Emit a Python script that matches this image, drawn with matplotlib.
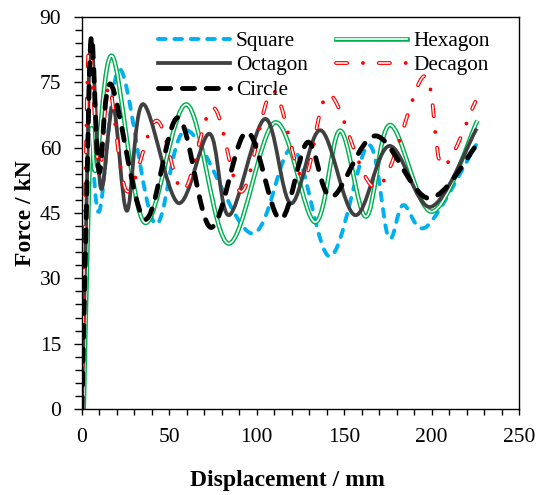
import numpy as np
import matplotlib
matplotlib.use("Agg")
import matplotlib.pyplot as plt
from matplotlib.path import Path
from matplotlib.patches import PathPatch
from matplotlib.lines import Line2D
from matplotlib.legend_handler import HandlerTuple
from matplotlib.ticker import MultipleLocator

plt.rcParams['font.family'] = ['Liberation Serif', 'DejaVu Serif']
plt.rcParams['lines.scale_dashes'] = False

# force-displacement curves, values (x in mm, y in kN)
sq_x = [0, 2.5, 5.0, 10.0, 21.7, 41.6, 59.9, 97.0, 120.5, 141.9, 163.8, 175.3, 183.7, 197.2, 225.4]
sq_y = [0, 35, 62, 45.5, 78.0, 42.6, 64.0, 40.3, 59.8, 35.0, 60.6, 39.5, 46.8, 41.9, 60.6]

hex_x = [1.0, 3.0, 5.3, 8.0, 17.4, 35.8, 59.9, 83.7, 110.5, 133.3, 147.6, 162.5, 176.2, 200.1, 226.2]
hex_y = [0, 35, 64.0, 55.0, 81.0, 42.8, 69.9, 38.0, 65.8, 42.9, 63.9, 44.2, 65.2, 45.3, 66.2]

oct_x = [0, 2.5, 5.2, 10.8, 17.8, 25.7, 34.8, 55.0, 73.0, 84.2, 104.7, 119.5, 136.5, 156.2, 175.8, 199.5, 225.8]
oct_y = [0, 45, 85.0, 50.7, 69.5, 45.5, 70.0, 47.3, 63.2, 44.5, 66.6, 47.2, 64.0, 44.5, 60.4, 46.4, 64.4]

dec_x = [0, 1.5, 4.2, 9.8, 15.5, 25.7, 42.7, 58.0, 75.0, 91.4, 109.0, 126.6, 141.5, 168.6, 195.7, 206.0, 225.0]
dec_y = [0, 40, 84.0, 54.0, 74.0, 50.0, 66.2, 50.2, 69.2, 49.9, 73.0, 53.0, 72.2, 50.8, 76.4, 55.8, 70.5]

cir_x = [0, 2.5, 5.4, 9.8, 16.6, 35.9, 55.0, 73.7, 94.2, 113.3, 129.0, 142.8, 168.0, 198.1, 225.4]
cir_y = [0, 45, 85.5, 54.5, 74.5, 43.6, 66.9, 41.7, 63.6, 43.6, 61.2, 48.7, 62.7, 48.4, 60.4]

names = ['Square', 'Hexagon', 'Octagon', 'Decagon', 'Circle']


def smooth(xs, ys):
    # smoothed line like the spreadsheet's, passing through every data point
    p = np.column_stack([xs, ys]).astype(float)
    n = len(p)
    verts = [p[0]]
    codes = [Path.MOVETO]
    for i in range(n - 1):
        p0 = p[max(i - 1, 0)]
        p1 = p[i]
        p2 = p[i + 1]
        p3 = p[min(i + 2, n - 1)]
        verts += [p1 + (p2 - p0) / 6, p2 - (p3 - p1) / 6, p2]
        codes += [Path.CURVE4] * 3
    return Path(verts, codes)


def draw(ax, xs, ys, **kw):
    ax.add_patch(PathPatch(smooth(xs, ys), facecolor='none', **kw))


fig = plt.figure(figsize=(5.39, 4.95), dpi=100)
ax = fig.add_axes([0.1521, 0.1737, 0.8108, 0.792])

sq_ls = (0, (5.5, 6.3))
cir_ls = (0, (8.7, 8.5))
dec_ls = (0, (8.0, 11.4, 0.01, 11.4))
dec_in = (0, (8.0, 22.81))

draw(ax, sq_x, sq_y, edgecolor='#00B0F0', lw=2.8, linestyle=sq_ls, capstyle='round')
draw(ax, hex_x, hex_y, edgecolor='#00B050', lw=3.3, joinstyle='round')
draw(ax, hex_x, hex_y, edgecolor='white', lw=1.2, joinstyle='round')
draw(ax, oct_x, oct_y, edgecolor='#404040', lw=2.7, joinstyle='round')
draw(ax, dec_x, dec_y, edgecolor='#FF0000', lw=2.8, linestyle=dec_ls, capstyle='round')
draw(ax, dec_x, dec_y, edgecolor='white', lw=1.1, linestyle=dec_in, capstyle='round')
draw(ax, cir_x, cir_y, edgecolor='black', lw=3.5, linestyle=cir_ls, capstyle='round')

ax.set_xlim(0, 250)
ax.set_ylim(0, 90)
ax.xaxis.set_major_locator(MultipleLocator(50))
ax.xaxis.set_minor_locator(MultipleLocator(10))
ax.yaxis.set_major_locator(MultipleLocator(15))
ax.yaxis.set_minor_locator(MultipleLocator(3))
ax.tick_params(axis='both', which='both', direction='out', width=1, labelsize=15.5,
               top=False, right=False, pad=9)
ax.tick_params(axis='y', which='major', length=6)
ax.tick_params(axis='y', which='minor', length=5)
ax.tick_params(axis='x', which='major', length=4.5)
ax.tick_params(axis='x', which='minor', length=4)
for s in ax.spines.values():
    s.set_linewidth(1.0)

ax.set_xlabel('Displacement / mm', fontsize=17, fontweight='bold', labelpad=14)
ax.xaxis.set_label_coords(0.47, -0.155)
ax.set_ylabel('Force / kN', fontsize=17, fontweight='bold', labelpad=2.4)

# legend proxies
h_sq = Line2D([], [], color='#00B0F0', lw=2.8, ls=sq_ls, dash_capstyle='round')
h_hex = (Line2D([], [], color='#00B050', lw=3.3), Line2D([], [], color='white', lw=1.2))
h_oct = Line2D([], [], color='#404040', lw=2.7)
h_dec = (Line2D([], [], color='#FF0000', lw=2.8, ls=dec_ls, dash_capstyle='round'),
         Line2D([], [], color='white', lw=1.1, ls=dec_in, dash_capstyle='round'))
h_cir = Line2D([], [], color='black', lw=3.5, ls=cir_ls, dash_capstyle='round')

ax.legend([h_sq, h_oct, h_cir, h_hex, h_dec],
          ['Square', 'Octagon', 'Circle', 'Hexagon', 'Decagon'],
          handler_map={tuple: HandlerTuple(ndivide=1)},
          ncol=2, frameon=False, fontsize=15.3, loc='upper left',
          bbox_to_anchor=(0.141, 1.002), handlelength=3.35, handletextpad=0.3,
          columnspacing=1.3, labelspacing=0.22, borderpad=0.2)

fig.savefig('out.png', dpi=100)
